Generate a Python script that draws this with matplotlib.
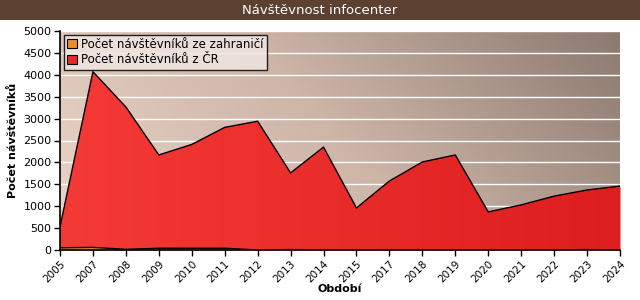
import matplotlib
matplotlib.use("Agg")
import matplotlib.pyplot as plt
import numpy as np
from matplotlib.patches import Rectangle
from matplotlib.colors import LinearSegmentedColormap

years = ["2005", "2007", "2008", "2009", "2010", "2011", "2012", "2013", "2014",
         "2015", "2017", "2018", "2019", "2020", "2021", "2022", "2023", "2024"]
zahranici = [50, 60, 15, 40, 40, 40, 0, 10, 0, 0, 0, 0, 0, 0, 0, 0, 10, 0]
cr = [480, 4010, 3250, 2130, 2370, 2760, 2940, 1750, 2350, 960, 1575, 2010, 2170, 870, 1030, 1230, 1360, 1460]

plt.rcParams['font.family'] = ['DejaVu Sans']
fig = plt.figure(figsize=(6.4, 3.0), dpi=100)
fig.patch.set_facecolor('white')

# title bar
fig.patches.append(Rectangle((0, 1 - 20/300), 1, 20/300, transform=fig.transFigure,
                             facecolor='#5c4030', edgecolor='none', zorder=0))
fig.text(0.5, 1 - 10/300, "Návštěvnost infocenter", color='white', ha='center', va='center',
         fontsize=9.5)

ax = fig.add_axes([60/640, 1 - 250/300, 560/640, 219/300])
x = np.arange(len(years))
ax.set_xlim(0, len(years) - 1)
ax.set_ylim(0, 5000)

# background gradient
bg = LinearSegmentedColormap.from_list('bg', ['#ead6c8', '#cdb5a8', '#8c7a70'])
gx, gy = np.meshgrid(np.linspace(0, 1, 200), np.linspace(0, 1, 100))
grad = 0.75 * gx + 0.25 * gy
ax.imshow(grad, cmap=bg, extent=[0, len(years) - 1, 0, 5000], aspect='auto',
          origin='lower', zorder=0)

for v in range(500, 5001, 500):
    ax.axhline(v, color='white', lw=1.0, zorder=1)

total = np.array(zahranici) + np.array(cr)
red = ax.fill_between(x, zahranici, total, color='#e82828', lw=0, zorder=2)
# red gradient
rg = LinearSegmentedColormap.from_list('rg', ['#f43a36', '#dc1e1e'])
im = ax.imshow(gx, cmap=rg, extent=[0, len(years) - 1, 0, 5000], aspect='auto',
               origin='lower', zorder=2.1)
im.set_clip_path(red.get_paths()[0], transform=ax.transData)
ax.plot(x, total, color='black', lw=1.0, zorder=3)
ax.fill_between(x, 0, zahranici, color='#f08a30', lw=0, zorder=2.5)
ax.plot(x, zahranici, color='black', lw=1.0, zorder=3)

ax.set_xticks(x)
ax.set_xticklabels(years, rotation=45, ha='right', rotation_mode='anchor', fontsize=7.5)
ax.set_yticks(range(0, 5001, 500))
ax.set_yticklabels([str(v) for v in range(0, 5001, 500)], fontsize=8)
ax.tick_params(length=4, width=1, color='black', pad=2)
for s in ['top', 'right']:
    ax.spines[s].set_visible(False)
ax.spines['left'].set_linewidth(1.2)
ax.spines['bottom'].set_linewidth(1.2)

ax.set_xlabel("Období", fontsize=8, fontweight='bold', labelpad=0)
ax.set_ylabel("Počet návštěvníků", fontsize=8, fontweight='bold', labelpad=4)

from matplotlib.patches import Patch
handles = [Patch(facecolor='#f08a30', edgecolor='black', lw=0.8),
           Patch(facecolor='#e82828', edgecolor='black', lw=0.8)]
leg = ax.legend(handles, ["Počet návštěvníků ze zahraničí", "Počet návštěvníků z ČR"],
                loc='upper left', bbox_to_anchor=(0.0, 1.0), fontsize=8.5,
                frameon=True, fancybox=False, borderpad=0.3, handlelength=0.8,
                handleheight=0.8, handletextpad=0.4, labelspacing=0.2, borderaxespad=0.3)
leg.get_frame().set_edgecolor('black')
leg.get_frame().set_facecolor('#f0e6e2')
leg.get_frame().set_alpha(0.85)
leg.set_zorder(5)

fig.savefig("out.png", dpi=100)
